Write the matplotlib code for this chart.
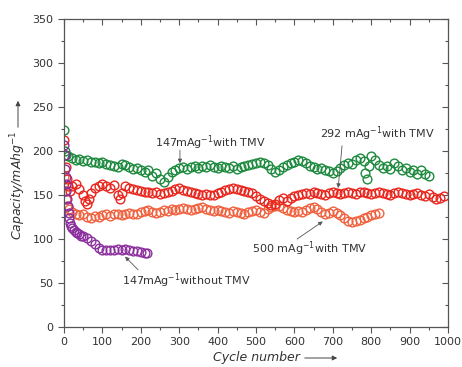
import matplotlib
matplotlib.use("Agg")
import matplotlib.pyplot as plt
from matplotlib.ticker import MultipleLocator

# ---- data ----
green_cycles = [1, 3, 5, 10, 20, 30, 40, 50, 60, 70, 80, 90, 100, 110, 120, 130, 140, 150, 160, 170,
                180, 190, 200, 210, 220, 230, 240, 250, 260, 270, 280, 290, 300, 310, 320, 330, 340,
                350, 360, 370, 380, 390, 400, 410, 420, 430, 440, 450, 460, 470, 480, 490, 500, 510,
                520, 530, 540, 550, 560, 570, 580, 590, 600, 610, 620, 630, 640, 650, 660, 670, 680,
                690, 700, 710, 720, 730, 740, 750, 760, 770, 780, 785, 790, 795, 800, 810, 820, 830,
                840, 850, 860, 870, 880, 890, 900, 910, 920, 930, 940, 950]
green_cap = [224, 200, 196, 194, 192, 190, 191, 189, 190, 188, 187, 186, 187, 185, 184, 183, 182, 185,
             184, 182, 180, 181, 179, 176, 178, 172, 175, 168, 165, 170, 176, 179, 181, 182, 180, 182,
             183, 181, 183, 182, 184, 182, 181, 183, 182, 181, 183, 180, 182, 183, 184, 185, 186, 187,
             186, 184, 180, 176, 178, 182, 184, 186, 188, 190, 189, 186, 183, 182, 180, 181, 179, 177,
             175, 177, 181, 184, 186, 185, 190, 192, 189, 175, 168, 183, 194, 190, 184, 181, 183, 180,
             186, 183, 178, 181, 176, 179, 174, 178, 174, 172]

red_cycles = [1, 3, 5, 8, 10, 15, 20, 30, 40, 50, 55, 60, 65, 70, 80, 90, 100, 110, 120, 130, 140, 145,
              150, 160, 170, 180, 190, 200, 210, 220, 230, 240, 250, 260, 270, 280, 290, 300, 310, 320,
              330, 340, 350, 360, 370, 380, 390, 400, 410, 420, 430, 440, 450, 460, 470, 480, 490, 500,
              510, 520, 530, 540, 550, 560, 570, 580, 590, 600, 610, 620, 630, 640, 650, 660, 670, 680,
              690, 700, 710, 720, 730, 740, 750, 760, 770, 780, 790, 800, 810, 820, 830, 840, 850, 860,
              870, 880, 890, 900, 910, 920, 930, 940, 950, 960, 970, 980, 990]
red_cap = [212, 196, 182, 168, 160, 155, 160, 163, 157, 150, 143, 140, 145, 152, 158, 160, 162, 160, 158,
           161, 150, 146, 152, 160, 158, 157, 156, 155, 153, 154, 152, 153, 151, 152, 153, 155, 157, 158,
           156, 155, 153, 152, 151, 150, 151, 150, 150, 152, 154, 156, 157, 158, 157, 156, 155, 154, 152,
           149, 146, 143, 141, 139, 140, 144, 147, 143, 147, 149, 150, 151, 152, 151, 153, 152, 151, 150,
           152, 153, 152, 151, 152, 153, 152, 151, 153, 154, 152, 151, 152, 153, 152, 151, 150, 152, 153,
           152, 151, 150, 151, 152, 150, 149, 151, 148, 146, 147, 149]

orange_cycles = [1, 3, 5, 8, 12, 20, 30, 40, 50, 60, 70, 80, 90, 100, 110, 120, 130, 140, 150, 160, 170,
                 180, 190, 200, 210, 220, 230, 240, 250, 260, 270, 280, 290, 300, 310, 320, 330, 340,
                 350, 360, 370, 380, 390, 400, 410, 420, 430, 440, 450, 460, 470, 480, 490, 500, 510,
                 520, 530, 540, 550, 560, 570, 580, 590, 600, 610, 620, 630, 640, 650, 660, 670, 680,
                 690, 700, 710, 720, 730, 740, 750, 760, 770, 780, 790, 800, 810, 820]
orange_cap = [170, 155, 145, 138, 134, 131, 129, 127, 128, 125, 124, 126, 125, 127, 128, 126, 128, 129,
              127, 129, 130, 128, 129, 131, 132, 133, 131, 130, 131, 133, 132, 134, 133, 134, 135, 134,
              133, 134, 135, 136, 134, 133, 132, 133, 132, 131, 130, 132, 131, 130, 129, 131, 132, 133,
              131, 130, 134, 136, 138, 137, 135, 133, 132, 131, 132, 131, 133, 135, 136, 134, 131, 129,
              130, 132, 130, 127, 124, 121, 119, 120, 122, 124, 125, 127, 129, 130]

purple_cycles = [1, 2, 3, 4, 5, 6, 8, 10, 12, 14, 16, 18, 20, 25, 30, 35, 40, 45, 50, 60, 70, 80, 90,
                 100, 110, 120, 130, 140, 150, 160, 170, 180, 190, 200, 210, 216]
purple_cap = [207, 195, 180, 170, 162, 155, 146, 138, 130, 124, 118, 115, 112, 110, 108, 107, 106, 104,
              103, 101, 98, 94, 90, 88, 88, 87, 88, 89, 88, 89, 88, 86, 86, 85, 84, 84]

labels = ["147mAg$^{-1}$with TMV", "292 mAg$^{-1}$with TMV",
          "500 mAg$^{-1}$with TMV", "147mAg$^{-1}$without TMV"]

GREEN = "#1d8a3e"
RED = "#e8261d"
ORANGE = "#f0613e"
PURPLE = "#8c2f9e"
TXT = "#333333"
AXC = "#555555"

fig = plt.figure(figsize=(4.62, 3.67), dpi=100)
rect = [0.1385, 0.109, 0.8312, 0.839]

# mirror axes (top/right inward ticks), drawn underneath
axm = fig.add_axes(rect, frameon=False)
axm.set_xlim(0, 1000)
axm.set_ylim(0, 350)
axm.xaxis.set_major_locator(MultipleLocator(100))
axm.xaxis.set_minor_locator(MultipleLocator(50))
axm.yaxis.set_major_locator(MultipleLocator(50))
axm.yaxis.set_minor_locator(MultipleLocator(25))
axm.tick_params(which="both", direction="in", bottom=False, left=False, top=True, right=True,
                labelbottom=False, labelleft=False, color=AXC, width=0.8)
axm.tick_params(which="major", length=4)
axm.tick_params(which="minor", length=2.5)

ax = fig.add_axes(rect)
ax.patch.set_alpha(0)

mk = dict(marker="o", linestyle="none", markerfacecolor="none", markersize=6.3, markeredgewidth=1.0)
ax.plot(orange_cycles, orange_cap, markeredgecolor=ORANGE, **mk)
ax.plot(red_cycles, red_cap, markeredgecolor=RED, **mk)
ax.plot(green_cycles, green_cap, markeredgecolor=GREEN, **mk)
ax.plot(purple_cycles, purple_cap, markeredgecolor=PURPLE, **mk)

ax.set_xlim(0, 1000)
ax.set_ylim(0, 350)
ax.xaxis.set_major_locator(MultipleLocator(100))
ax.xaxis.set_minor_locator(MultipleLocator(50))
ax.yaxis.set_major_locator(MultipleLocator(50))
ax.yaxis.set_minor_locator(MultipleLocator(25))
ax.tick_params(which="both", direction="out", labelsize=8, labelcolor=TXT, color=AXC, width=0.8)
ax.tick_params(which="major", length=4)
ax.tick_params(which="minor", length=2.5)
for s in ax.spines.values():
    s.set_color(AXC)
    s.set_linewidth(0.9)

arrow = dict(arrowstyle="-|>", color=AXC, lw=0.6, mutation_scale=6, shrinkA=0, shrinkB=0)
ax.text(237, 209, labels[0], fontsize=8, color=TXT, va="center", ha="left")
ax.annotate("", xy=(302, 186), xytext=(302, 201), arrowprops=arrow)
ax.text(667, 220, labels[1], fontsize=8, color=TXT, va="center", ha="left")
ax.annotate("", xy=(714, 158), xytext=(724, 206), arrowprops=arrow)
ax.text(490, 89, labels[2], fontsize=8, color=TXT, va="center", ha="left")
ax.annotate("", xy=(674, 120), xytext=(607, 100), arrowprops=arrow)
ax.text(151, 53, labels[3], fontsize=8, color=TXT, va="center", ha="left")
ax.annotate("", xy=(159, 80), xytext=(193, 65), arrowprops=arrow)

# axis labels with arrows
fig.text(256 / 462, 1 - 357 / 367, "Cycle number", fontsize=9, style="italic", color=TXT,
         ha="center", va="center")
fig.patches.append(matplotlib.patches.FancyArrowPatch(
    (302 / 462, 1 - 358 / 367), (340 / 462, 1 - 358 / 367), transform=fig.transFigure,
    arrowstyle="-|>", mutation_scale=7, color="#444444", lw=0.7))
fig.text(18 / 462, 1 - 185 / 367, "Capacity/mAhg$^{-1}$", fontsize=9, style="italic", color=TXT,
         rotation=90, ha="center", va="center")
fig.patches.append(matplotlib.patches.FancyArrowPatch(
    (18 / 462, 1 - 130 / 367), (18 / 462, 1 - 98 / 367), transform=fig.transFigure,
    arrowstyle="-|>", mutation_scale=7, color="#444444", lw=0.7))

fig.savefig("out.png", dpi=100)
